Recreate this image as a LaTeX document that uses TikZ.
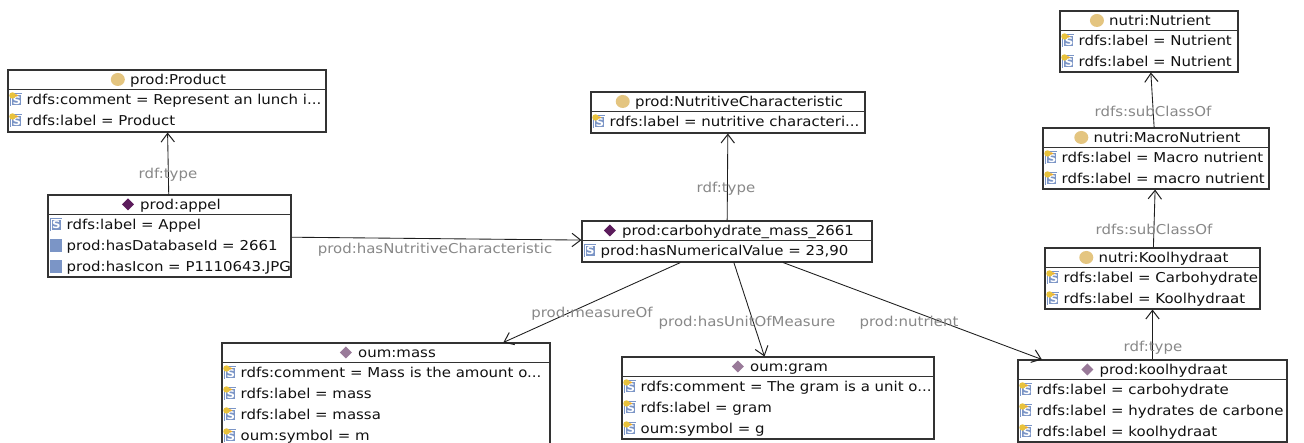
\documentclass[tikz,border=0pt]{standalone}
\usepackage{fontspec}
\setmainfont{DejaVu Sans}[FakeStretch=1.1]
\usetikzlibrary{arrows.meta,calc,fit}

\definecolor{boxline}{HTML}{333333}
\definecolor{conncol}{HTML}{1E1E1E}
\definecolor{labelgray}{HTML}{888888}
\definecolor{txtcol}{HTML}{111111}
\definecolor{classtan}{HTML}{E4C580}
\definecolor{inddark}{HTML}{5C1C5C}
\definecolor{indlight}{HTML}{997A99}
\definecolor{iconblue}{HTML}{7B95C6}
\definecolor{badge}{HTML}{E8C23C}

% one property row: box, row number, icon pic, text
\newcommand\proprow[4]{%
  \coordinate (#1-r#2) at ($(#1.north west)+(0,{20+21*#2-10.5})$);
  \pic at ($(#1-r#2)+(9,0)$) {#3};
  \node[rowtxt] (#1-t#2) at ($(#1-r#2)+(19,5)$) {#4};
}
% header of a box: box, icon pic, title
\newcommand\objtitle[3]{%
  \node[titletxt] (#1-title) at ($(#1.north)+(11,15)$) {#3};
  \pic at ($(#1-title.west |- #1.north)+(-12,10)$) {#2};
  \draw[sepline] ($(#1.north west)+(0,20)$) -- ($(#1.north east)+(0,20)$);
}

\begin{document}
\begin{tikzpicture}[x=0.75pt,y=-0.75pt,
  font=\fontsize{10.2}{12}\selectfont,
  obj/.style={draw=boxline, line width=0.8pt, fill=white, inner sep=0pt, fit={#1}},
  sepline/.style={draw=boxline, line width=0.8pt},
  rowtxt/.style={anchor=base west, inner sep=0pt, text=txtcol},
  titletxt/.style={anchor=base, inner sep=0pt, text=txtcol},
  elabel/.style={anchor=base, inner sep=0pt, text=labelgray},
  conn/.style={draw=conncol, line width=0.65pt, -{Straight Barb[length=6.5pt,width=10pt,line width=0.75pt]}},
  classicon/.pic={\fill[classtan] (0,0) ellipse (7 and 6.5);},
  inddarkicon/.pic={\fill[inddark] (-6,0) -- (0,-6) -- (6,0) -- (0,6) -- cycle;},
  indlighticon/.pic={\fill[indlight] (-6,0) -- (0,-6) -- (6,0) -- (0,6) -- cycle;},
  plainicon/.pic={\fill[iconblue] (-6,-6.5) rectangle (6,6.5);},
  dtypeicon/.pic={\fill[iconblue] (-6,-6.5) rectangle (6,6.5);
    \draw[white, line width=0.5pt] (-5,-5.5) rectangle (5,5.5);
    \node[text=white, inner sep=0pt, font=\fontsize{8}{8}\selectfont\bfseries] at (0,0) {S};},
  annoticon/.pic={\fill[iconblue] (-6,-6.5) rectangle (6,6.5);
    \draw[white, line width=0.5pt] (-5,-5.5) rectangle (5,5.5);
    \node[text=white, inner sep=0pt, font=\fontsize{8}{8}\selectfont\bfseries] at (0.5,0.5) {S};
    \fill[badge] (-4,-4.5) circle (3.2);
    \fill[badge!70!orange] (-1,-3) -- (2,-4.5) -- (-1,-6) -- cycle;},
]
\useasboundingbox (0,0) rectangle (1304,443);
\fill[white] (0,0) rectangle (1304,443);
\clip (0,0) rectangle (1304,443);

% ---- boxes ----
\node[obj={(8,70) (326,132)}] (product) {};
\node[obj={(48,195) (291,277)}] (appel) {};
\node[obj={(591,92) (865,133)}] (nutchar) {};
\node[obj={(582,221) (872,262)}] (carb) {};
\node[obj={(1060,11) (1238,72)}] (nutrient) {};
\node[obj={(1043,128) (1269,189)}] (macro) {};
\node[obj={(1045,248) (1260,309)}] (koolcls) {};
\node[obj={(1018,360) (1287,442)}] (koolind) {};
\node[obj={(222,343) (550,448)}] (mass) {};
\node[obj={(622,357) (934,439)}] (gram) {};

% ---- connectors ----
\draw[conn] (appel) -- (product);
\draw[conn] (appel) -- (carb);
\draw[conn] (carb) -- (nutchar);
\draw[conn] (macro) -- (nutrient);
\draw[conn] (koolcls) -- (macro);
\draw[conn] (koolind) -- (koolcls);
\draw[conn] (carb) -- (mass);
\draw[conn] (carb) -- (gram);
\draw[conn] (carb) -- (koolind);

% ---- connector labels ----
\node[elabel] (l-type1) at (168,178) {rdf:type};
\node[elabel] (l-nutchar) at (435,253.5) {prod:hasNutritiveCharacteristic};
\node[elabel] (l-type2) at (726,192.5) {rdf:type};
\node[elabel] (l-sub1) at (1153,116.5) {rdfs:subClassOf};
\node[elabel] (l-sub2) at (1154,234.5) {rdfs:subClassOf};
\node[elabel] (l-type3) at (1153,351.5) {rdf:type};
\node[elabel] (l-measure) at (592,317.5) {prod:measureOf};
\node[elabel] (l-unit) at (747,326.5) {prod:hasUnitOfMeasure};
\node[elabel] (l-nutr) at (909,326.5) {prod:nutrient};

% ---- box contents ----
\objtitle{product}{classicon}{prod:Product}
\proprow{product}{1}{annoticon}{rdfs:comment = Represent an lunch i...}
\proprow{product}{2}{annoticon}{rdfs:label = Product}

\objtitle{appel}{inddarkicon}{prod:appel}
\proprow{appel}{1}{dtypeicon}{rdfs:label = Appel}
\proprow{appel}{2}{plainicon}{prod:hasDatabaseId = 2661}
\proprow{appel}{3}{plainicon}{prod:hasIcon = P1110643.JPG}

\objtitle{nutchar}{classicon}{prod:NutritiveCharacteristic}
\proprow{nutchar}{1}{annoticon}{rdfs:label = nutritive characteri...}

\objtitle{carb}{inddarkicon}{prod:carbohydrate\_mass\_2661}
\proprow{carb}{1}{dtypeicon}{prod:hasNumericalValue = 23,90}

\objtitle{nutrient}{classicon}{nutri:Nutrient}
\proprow{nutrient}{1}{annoticon}{rdfs:label = Nutrient}
\proprow{nutrient}{2}{annoticon}{rdfs:label = Nutrient}

\objtitle{macro}{classicon}{nutri:MacroNutrient}
\proprow{macro}{1}{annoticon}{rdfs:label = Macro nutrient}
\proprow{macro}{2}{annoticon}{rdfs:label = macro nutrient}

\objtitle{koolcls}{classicon}{nutri:Koolhydraat}
\proprow{koolcls}{1}{annoticon}{rdfs:label = Carbohydrate}
\proprow{koolcls}{2}{annoticon}{rdfs:label = Koolhydraat}

\objtitle{koolind}{indlighticon}{prod:koolhydraat}
\proprow{koolind}{1}{annoticon}{rdfs:label = carbohydrate}
\proprow{koolind}{2}{annoticon}{rdfs:label = hydrates de carbone}
\proprow{koolind}{3}{annoticon}{rdfs:label = koolhydraat}

\objtitle{mass}{indlighticon}{oum:mass}
\proprow{mass}{1}{annoticon}{rdfs:comment = Mass is the amount o...}
\proprow{mass}{2}{annoticon}{rdfs:label = mass}
\proprow{mass}{3}{annoticon}{rdfs:label = massa}
\proprow{mass}{4}{annoticon}{oum:symbol = m}

\objtitle{gram}{indlighticon}{oum:gram}
\proprow{gram}{1}{annoticon}{rdfs:comment = The gram is a unit o...}
\proprow{gram}{2}{annoticon}{rdfs:label = gram}
\proprow{gram}{3}{annoticon}{oum:symbol = g}
\end{tikzpicture}
\end{document}
